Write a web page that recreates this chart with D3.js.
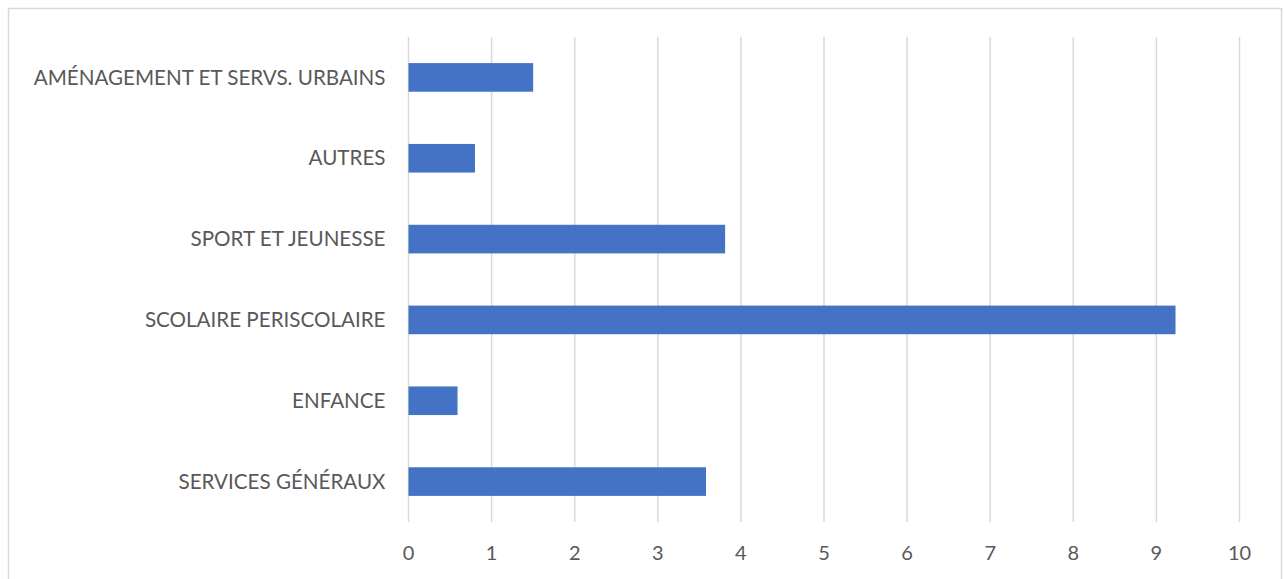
<!DOCTYPE html>
<html>
<head>
<meta charset="utf-8">
<script src="https://cdn.jsdelivr.net/npm/d3@7"></script>
<style>
  body { margin: 0; background: #fff; }
  text { font-family: Lato, "Open Sans", sans-serif; fill: #595959; }
</style>
</head>
<body>
<script>
var categories = ['AMÉNAGEMENT ET SERVS. URBAINS', 'AUTRES', 'SPORT ET JEUNESSE',
  'SCOLAIRE PERISCOLAIRE', 'ENFANCE', 'SERVICES GÉNÉRAUX'];
var values = [1.5, 0.8, 3.81, 9.23, 0.59, 3.58];
var tickValues = [0, 1, 2, 3, 4, 5, 6, 7, 8, 9, 10];

var width = 1284, height = 579;
var plotLeft = 408.5, plotRight = 1239.5, plotTop = 37, plotBottom = 522;

var svg = d3.select('body')
  .append('svg')
  .attr('width', width)
  .attr('height', height);

// chart frame
svg.append('rect')
  .attr('x', 8.5)
  .attr('y', 8.5)
  .attr('width', 1273)
  .attr('height', 620)
  .attr('fill', 'none')
  .attr('stroke', '#d9d9d9')
  .attr('stroke-width', 1.5);

var x = d3.scaleLinear().domain([0, 10]).range([plotLeft, plotRight]);
var y = d3.scaleBand().domain(categories).range([plotTop, plotBottom]).paddingInner(0.646).paddingOuter(0.323);

var data = categories.map(function(c, i) {
  return { name: c, value: values[i] };
});

// gridlines
svg.append('g')
  .selectAll('line')
  .data(tickValues)
  .enter()
  .append('line')
  .attr('x1', function(d) { return x(d); })
  .attr('x2', function(d) { return x(d); })
  .attr('y1', plotTop)
  .attr('y2', plotBottom)
  .attr('stroke', '#d9d9d9')
  .attr('stroke-width', 1.5);

// bars
svg.append('g')
  .selectAll('rect')
  .data(data)
  .enter()
  .append('rect')
  .attr('x', x(0))
  .attr('y', function(d) { return y(d.name); })
  .attr('width', function(d) { return x(d.value) - x(0); })
  .attr('height', y.bandwidth())
  .attr('fill', '#4472c4');

// category labels
svg.append('g')
  .selectAll('text')
  .data(categories)
  .enter()
  .append('text')
  .attr('x', plotLeft - 23)
  .attr('y', function(d) { return y(d) + y.bandwidth() / 2; })
  .attr('dy', '0.35em')
  .attr('text-anchor', 'end')
  .attr('font-size', 20.6)
  .text(function(d) { return d; });

// x tick labels
svg.append('g')
  .selectAll('text')
  .data(tickValues)
  .enter()
  .append('text')
  .attr('x', function(d) { return x(d); })
  .attr('y', 560)
  .attr('text-anchor', 'middle')
  .attr('font-size', 20)
  .text(function(d) { return d; });
</script>
</body>
</html>
